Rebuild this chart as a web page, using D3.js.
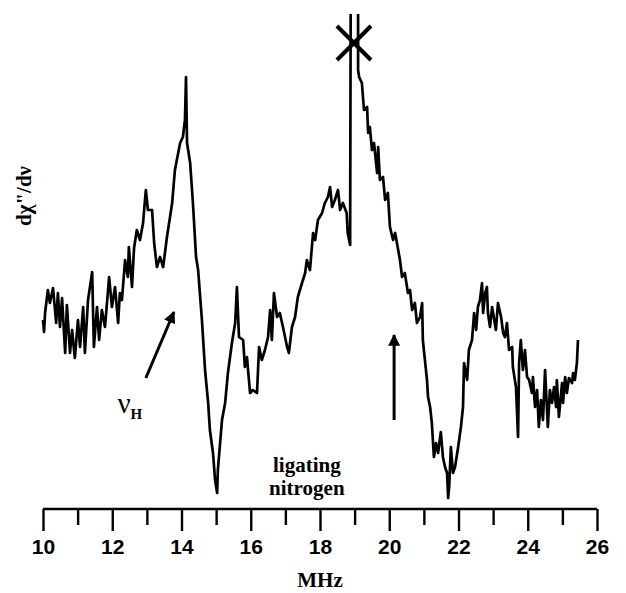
<!DOCTYPE html>
<html>
<head>
<meta charset="utf-8">
<script src="https://cdn.jsdelivr.net/npm/d3@7"></script>
<style>
  body { margin: 0; background: #fff; }
  svg { display: block; font-family: "Liberation Serif", "DejaVu Serif", serif; }
  .tick text { font-size: 21px; font-weight: bold; }
  .axis path, .axis line { stroke: #000; stroke-width: 2.4; }
</style>
</head>
<body>
<div id="chart"></div>
<script>
const WIDTH = 626, HEIGHT = 593;

// spectrum: frequency (MHz) and derivative signal (arb. units)
const freq = [
  10.00,10.03,10.06,10.14,10.20,10.29,10.38,10.43,10.49,10.55,10.64,10.69,10.78,10.84,10.92,11.01,11.07,11.16,11.21,11.30,
  11.42,11.47,11.56,11.62,11.70,11.79,11.91,11.99,12.08,12.17,12.22,12.28,12.37,12.45,12.48,12.57,12.63,12.71,12.80,12.89,
  12.97,13.03,13.15,13.21,13.29,13.38,13.47,13.58,13.73,13.81,13.96,14.04,14.10,14.13,14.16,14.25,14.33,14.42,14.48,14.59,
  14.68,14.77,14.82,14.91,14.97,15.03,15.05,15.17,15.26,15.34,15.46,15.55,15.60,15.66,15.78,15.83,15.89,15.98,16.06,16.18,
  16.24,16.32,16.41,16.50,16.56,16.61,16.67,16.76,16.84,16.93,17.05,17.10,17.19,17.28,17.36,17.48,17.57,17.62,17.71,17.80,
  17.86,17.94,18.06,18.14,18.23,18.29,18.35,18.43,18.52,18.58,18.66,18.77,18.80,18.87,18.89,19.10,19.10,19.13,19.21,19.27,
  19.36,19.39,19.44,19.50,19.56,19.65,19.68,19.73,19.82,19.88,19.96,20.02,20.11,20.17,20.31,20.37,20.45,20.54,20.60,20.66,
  20.74,20.80,20.89,20.95,20.97,21.03,21.09,21.12,21.18,21.23,21.26,21.29,21.35,21.41,21.49,21.55,21.61,21.67,21.70,21.73,
  21.78,21.84,21.90,21.99,22.07,22.13,22.16,22.25,22.30,22.39,22.45,22.51,22.56,22.62,22.68,22.71,22.77,22.82,22.85,22.91,
  22.97,23.00,23.08,23.14,23.23,23.29,23.34,23.40,23.46,23.55,23.57,23.66,23.72,23.75,23.80,23.86,23.92,23.98,24.04,24.12,
  24.15,24.21,24.27,24.32,24.38,24.44,24.50,24.56,24.58,24.64,24.70,24.76,24.82,24.84,24.90,24.99,25.02,25.08,25.13,25.19,
  25.28,25.31,25.36,25.42,25.45
];
const signal = [
  -0.70,-0.82,-0.63,-0.40,-0.53,-0.38,-0.73,-0.43,-0.77,-0.48,-1.03,-0.55,-1.03,-0.80,-1.08,-0.70,-0.97,-0.57,-1.03,-0.50,
  -0.22,-0.97,-0.57,-0.90,-0.60,-0.77,-0.27,-0.57,-0.37,-0.73,-0.43,-0.50,-0.10,-0.27,0.03,-0.37,0.02,0.20,0.10,0.27,
  0.60,0.40,0.40,0.07,-0.17,-0.07,-0.17,0.13,0.47,0.80,1.07,1.13,1.30,1.73,1.07,0.87,0.47,-0.07,-0.20,-0.70,
  -1.20,-1.53,-1.80,-2.03,-2.30,-2.43,-2.20,-1.70,-1.53,-1.23,-0.92,-0.73,-0.37,-0.87,-0.90,-1.17,-1.07,-1.43,-1.40,-1.43,
  -0.97,-1.10,-1.00,-0.87,-0.60,-0.90,-0.43,-0.67,-0.63,-0.77,-0.97,-1.03,-0.77,-0.67,-0.47,-0.33,-0.23,-0.10,-0.20,0.17,
  0.10,0.30,0.37,0.47,0.53,0.63,0.43,0.50,0.60,0.40,0.47,0.37,0.17,0.05,3.00,3.00,1.80,1.73,1.67,1.40,
  1.43,1.17,1.23,1.00,1.07,0.77,1.03,0.70,0.73,0.50,0.57,0.23,0.10,0.17,-0.10,-0.27,-0.23,-0.43,-0.40,-0.60,
  -0.53,-0.73,-0.67,-0.53,-0.90,-1.10,-1.30,-1.47,-1.57,-1.73,-1.90,-2.07,-1.93,-2.03,-1.82,-2.07,-2.17,-2.23,-2.48,-2.37,
  -1.97,-2.23,-2.17,-1.97,-1.77,-1.57,-1.13,-1.30,-1.00,-0.90,-0.63,-0.80,-0.57,-0.50,-0.33,-0.63,-0.43,-0.37,-0.63,-0.77,
  -0.57,-0.63,-0.80,-0.53,-0.67,-0.83,-0.87,-0.73,-1.00,-0.97,-1.17,-1.37,-1.87,-1.13,-0.90,-1.20,-1.00,-1.27,-1.30,-1.43,
  -1.27,-1.57,-1.40,-1.77,-1.50,-1.70,-1.20,-1.63,-1.77,-1.40,-1.53,-1.37,-1.57,-1.30,-1.67,-1.33,-1.53,-1.27,-1.43,-1.28,
  -1.33,-1.23,-1.30,-1.13,-0.90
];
const tickValues = d3.range(10, 27, 1);
const tickLabels = [10, 12, 14, 16, 18, 20, 22, 24, 26];

const data = freq.map((f, i) => ({ f, v: signal[i] }));

const svg = d3.select("#chart").append("svg")
  .attr("width", WIDTH).attr("height", HEIGHT);

const x = d3.scaleLinear().domain([10, 26]).range([43, 597]);
const y = d3.scaleLinear().domain([-2.5, 2.5]).range([500, 0]);
const axisY = 509;

svg.append("defs").append("clipPath").attr("id", "clip")
  .append("rect").attr("x", 0).attr("y", 14).attr("width", WIDTH).attr("height", HEIGHT);

// trace
svg.append("path").datum(data)
  .attr("clip-path", "url(#clip)")
  .attr("fill", "none").attr("stroke", "#000")
  .attr("stroke-width", 2.7).attr("stroke-linejoin", "round")
  .attr("d", d3.line().x(d => x(d.f)).y(d => y(d.v)));

// cross marking the off-scale peak
const cx = x(18.98), cy = y(2.07), s = 17;
svg.append("g").attr("stroke", "#000").attr("stroke-width", 4)
  .selectAll("line").data([[-1, -1, 1, 1], [-1, 1, 1, -1]]).join("line")
  .attr("x1", d => cx + d[0] * s).attr("y1", d => cy + d[1] * s)
  .attr("x2", d => cx + d[2] * s).attr("y2", d => cy + d[3] * s);

// x axis
const ax = svg.append("g").attr("class", "axis")
  .attr("transform", `translate(0,${axisY})`)
  .call(d3.axisBottom(x).tickValues(tickValues).tickSizeOuter(0)
    .tickSize(0).tickPadding(30)
    .tickFormat(d => tickLabels.includes(d) ? d : ""));
ax.selectAll(".tick line")
  .attr("y2", d => d % 2 === 0 ? 22 : 16);
ax.select(".domain").attr("d", `M${x(10)},0H${x(26)}`);

svg.append("text")
  .attr("x", x(18)).attr("y", 587)
  .attr("text-anchor", "middle")
  .attr("font-size", 21).attr("font-weight", "bold")
  .text("MHz");

// y label
svg.append("text")
  .attr("transform", `translate(31,196) rotate(-90)`)
  .attr("text-anchor", "middle")
  .attr("font-size", 21).attr("font-weight", "bold")
  .text("dχ\"/dν");

// arrows
svg.append("defs").append("marker")
  .attr("id", "head").attr("viewBox", "0 0 10 10")
  .attr("refX", 9).attr("refY", 5)
  .attr("markerWidth", 4).attr("markerHeight", 4)
  .attr("orient", "auto")
  .append("path").attr("d", "M0,0L10,5L0,10z").attr("fill", "#000");

const arrows = [
  { f0: 12.97, v0: -1.28, f1: 13.78, v1: -0.62 },
  { f0: 20.14, v0: -1.70, f1: 20.14, v1: -0.85 }
];
svg.selectAll(".arrow").data(arrows).join("line")
  .attr("class", "arrow")
  .attr("x1", d => x(d.f0)).attr("y1", d => y(d.v0))
  .attr("x2", d => x(d.f1)).attr("y2", d => y(d.v1))
  .attr("stroke", "#000").attr("stroke-width", 3)
  .attr("marker-end", "url(#head)");

// labels
const nu = svg.append("text")
  .attr("x", x(12.15)).attr("y", y(-1.63));
nu.append("tspan").attr("font-size", 29).text("ν");
nu.append("tspan").attr("font-size", 15).attr("font-weight", "bold")
  .attr("dy", 6).text("H");

svg.selectAll(".lig").data([["ligating", -2.22], ["nitrogen", -2.45]]).join("text")
  .attr("class", "lig")
  .attr("x", x(17.62)).attr("y", d => y(d[1]))
  .attr("text-anchor", "middle")
  .attr("font-size", 21).attr("font-weight", "bold")
  .text(d => d[0]);
</script>
</body>
</html>
